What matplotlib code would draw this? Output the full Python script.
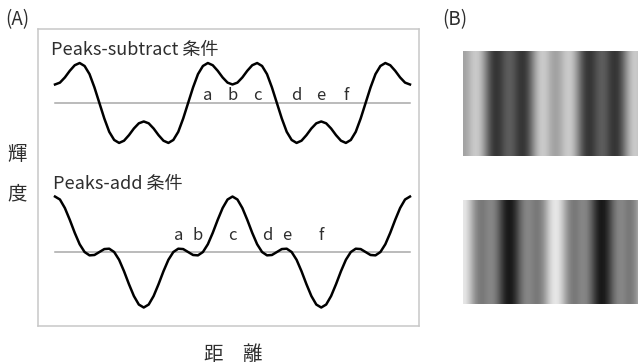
import numpy as np
import matplotlib
matplotlib.use('Agg')
import matplotlib.pyplot as plt

plt.rcParams['font.family'] = ['Noto Sans CJK JP', 'DejaVu Sans']

# one period of each luminance profile, sampled every 10 degrees of phase
phase_deg = list(range(0, 360, 10))
peaks_subtract = [0.50, 0.55, 0.69, 0.87, 1.02, 1.08, 1.00, 0.78, 0.42, 0.00,
                  -0.42, -0.78, -1.00, -1.08, -1.02, -0.87, -0.69, -0.55,
                  -0.50, -0.55, -0.69, -0.87, -1.02, -1.08, -1.00, -0.78,
                  -0.42, 0.00, 0.42, 0.78, 1.00, 1.08, 1.02, 0.87, 0.69, 0.55]
peaks_add = [1.50, 1.42, 1.19, 0.87, 0.52, 0.21, 0.00, -0.09, -0.08, 0.00,
             0.08, 0.09, 0.00, -0.21, -0.52, -0.87, -1.19, -1.42,
             -1.50, -1.42, -1.19, -0.87, -0.52, -0.21, 0.00, 0.09, 0.08,
             0.00, -0.08, -0.09, 0.00, 0.21, 0.52, 0.87, 1.19, 1.42]

# letter marks: (label, phase in degrees)
subtract_marks = [('a', 310), ('b', 360), ('c', 410), ('d', 490), ('e', 540), ('f', 590)]
add_marks = [('a', 250), ('b', 290), ('c', 360), ('d', 430), ('e', 470), ('f', 540)]

W, H = 638, 364
fig = plt.figure(figsize=(W / 100, H / 100), dpi=100)


def px_box(x0, y0, x1, y1):
    return [x0 / W, 1 - y1 / H, (x1 - x0) / W, (y1 - y0) / H]


def two_periods(vals):
    x = np.concatenate([phase_deg, np.array(phase_deg) + 360, [720]])
    y = np.concatenate([vals, vals, [vals[0]]])
    return x, y


text_col = '#2e2e2e'
upper_off = 4.03

# (A) waveforms
ax = fig.add_axes(px_box(38, 29, 419, 326))
ax.set_xlim(-34.5, 738.3)
ax.set_ylim(-2.0, 6.03)
ax.set_xticks([])
ax.set_yticks([])
for s in ax.spines.values():
    s.set_color('#c8c8c8')
    s.set_linewidth(1.1)

for off, vals, marks, dy in [(upper_off, peaks_subtract, subtract_marks, 0.08),
                             (0.0, peaks_add, add_marks, 0.33)]:
    ax.plot([0, 720], [off, off], color='#a8a8a8', lw=1.1, zorder=1)
    x, y = two_periods(vals)
    ax.plot(x, np.array(y) + off, color='black', lw=1.8, zorder=2,
            solid_joinstyle='round')
    for lab, ph in marks:
        ax.text(ph, off + dy, lab, ha='center', va='baseline',
                fontsize=12, color=text_col)

fig.text(51 / W, 1 - 50 / H, 'Peaks-subtract 条件', fontsize=13,
         color=text_col, va='center', ha='left')
fig.text(53 / W, 1 - 184 / H, 'Peaks-add 条件', fontsize=13,
         color=text_col, va='center', ha='left')

fig.text(5 / W, 1 - 20 / H, '(A)', fontsize=13.5, color=text_col, va='center')
fig.text(442 / W, 1 - 20 / H, '(B)', fontsize=13.5, color=text_col, va='center')
fig.text(17 / W, 1 - 154 / H, '輝', fontsize=14, color=text_col,
         ha='center', va='center')
fig.text(17 / W, 1 - 194 / H, '度', fontsize=14, color=text_col,
         ha='center', va='center')
fig.text(233 / W, 1 - 354 / H, '距　離', fontsize=14, color=text_col,
         ha='center', va='center')

# (B) gratings built from the same profiles
for vals, (y0, y1) in [(peaks_subtract, (51, 156)), (peaks_add, (200, 304))]:
    gax = fig.add_axes(px_box(463, y0, 648, y1))
    row = np.tile(vals, 2)[None, :]
    gax.imshow(row, extent=[-5, 715, 0, 1], aspect='auto', cmap='gray',
               vmin=-1.85, vmax=1.85, interpolation='bilinear')
    gax.set_xlim(0, 720)
    gax.set_ylim(0, 1)
    gax.axis('off')

fig.savefig('out.png', dpi=100)
